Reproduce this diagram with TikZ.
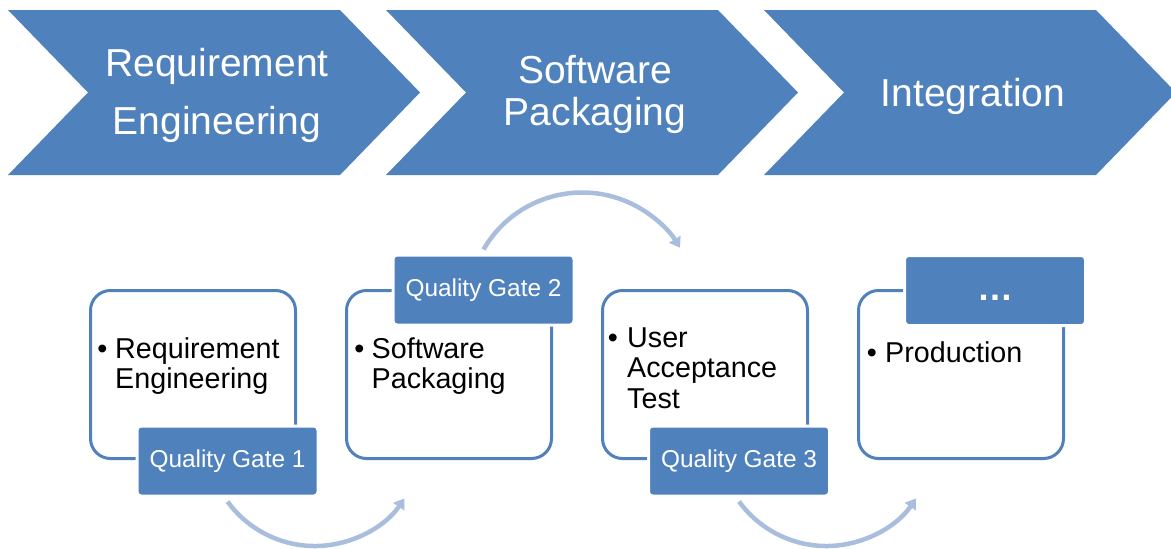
\documentclass[tikz,border=0pt]{standalone}
\usepackage{fontspec}
\setmainfont{Liberation Sans}
\usetikzlibrary{arrows.meta}
\definecolor{sablue}{HTML}{4F81BD}
\definecolor{arcblue}{HTML}{A9BEDD}
\begin{document}
\begin{tikzpicture}[x=1pt,y=-1pt,
  chevtext/.style={text=white, font=\fontsize{39}{47}\selectfont, anchor=base, inner sep=0pt},
  stagebox/.style={draw=sablue, line width=3pt, fill=white, rounded corners=20pt, minimum width=205pt, minimum height=168pt},
  gate/.style={fill=sablue, draw=white, line width=3pt, rounded corners=4pt, minimum width=181pt, minimum height=70pt, text=white, font=\fontsize{24.4}{29}\selectfont},
  item/.style={font=\fontsize{28.7}{34}\selectfont, anchor=base west, inner sep=0pt},
  bulletmark/.style={font=\fontsize{28.7}{34}\selectfont, anchor=base, inner sep=0pt},
  flow/.style={draw=arcblue, line width=4.5pt, -{Triangle[length=10pt,width=13pt]}}
]
\useasboundingbox (0,0) rectangle (1171,549);
% chevrons
\fill[sablue] (8,10) -- (340,10) -- (420,92.5) -- (340,175) -- (8,175) -- (88,92.5) -- cycle;
\fill[sablue] (386,10) -- (718,10) -- (798,92.5) -- (718,175) -- (386,175) -- (466,92.5) -- cycle;
\fill[sablue] (764,10) -- (1096,10) -- (1176,92.5) -- (1096,175) -- (764,175) -- (844,92.5) -- cycle;
\node[chevtext] (t1a) at (217,76) {Requirement};
\node[chevtext] (t1b) at (217,134) {Engineering};
\node[chevtext] (t2a) at (595,83) {Software};
\node[chevtext] (t2b) at (595,125) {Packaging};
\node[chevtext] (t3) at (973,106) {Integration};
% stage boxes
\node[stagebox] (b1) at (193,374.5) {};
\node[stagebox] (b2) at (449,374.5) {};
\node[stagebox] (b3) at (705,374.5) {};
\node[stagebox] (b4) at (961,374.5) {};
% gates
\node[gate] (g1) at (227.5,461) {Quality Gate 1};
\node[gate] (g2) at (483.5,290) {Quality Gate 2};
\node[gate] (g3) at (739,461) {Quality Gate 3};
\node[gate, font=\fontsize{36}{40}\selectfont\bfseries, text height=19pt, text depth=0pt] (g4) at (995,290.5) {…};
% box texts
\node[bulletmark] (p1) at (102.5,358) {•};
\node[item] (r1a) at (115,358) {Requirement};
\node[item] (r1b) at (115,388) {Engineering};
\node[bulletmark] (p2) at (359.5,358) {•};
\node[item] (r2a) at (371.5,358) {Software};
\node[item] (r2b) at (371.5,388) {Packaging};
\node[bulletmark] (p3) at (613,347) {•};
\node[item] (r3a) at (627,347) {User};
\node[item] (r3b) at (627,377.5) {Acceptance};
\node[item] (r3c) at (627,408) {Test};
\node[bulletmark] (p4) at (872,362) {•};
\node[item] (r4a) at (885,362) {Production};
% arcs
\draw[flow] ([yshift=-4pt]g1.south) arc[start angle=216, end angle=326, radius=108pt];
\draw[flow] ([yshift=4pt]g2.north) arc[start angle=150, end angle=31, radius=114pt];
\draw[flow] ([yshift=-4pt]g3.south) arc[start angle=216, end angle=326, radius=108pt];
\end{tikzpicture}
\end{document}
